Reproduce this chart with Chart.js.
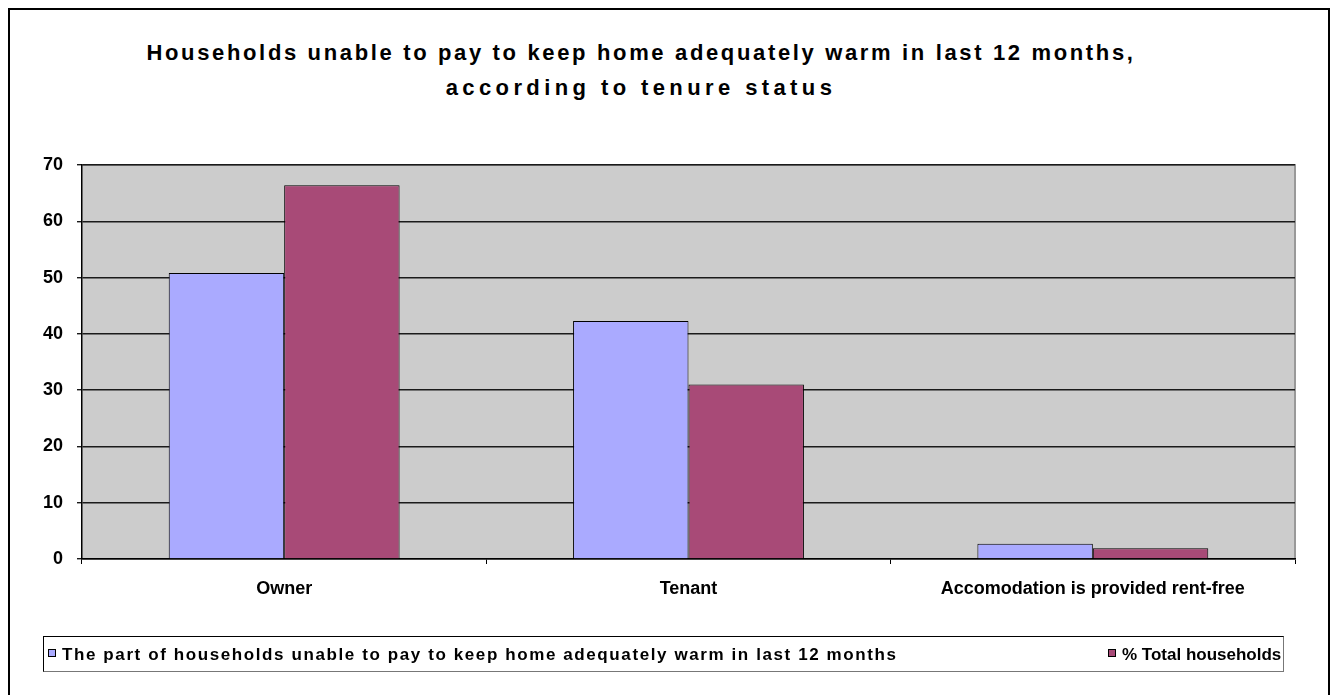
<!DOCTYPE html>
<html>
<head>
<meta charset="utf-8">
<script src="https://cdn.jsdelivr.net/npm/chart.js@4.4.0/dist/chart.umd.min.js"></script>
<style>
  body { margin: 0; background: #fff; font-family: "Liberation Sans", Arial, sans-serif; }
  #wrap { position: relative; width: 1338px; height: 695px; overflow: hidden; }
  #frame { position: absolute; left: 8px; top: 8px; width: 1318px; height: 700px; border: 2px solid #000; }
  #title { position: absolute; left: 0; top: 35px; width: 1282px; text-align: center;
           font-weight: bold; font-size: 22px; line-height: 35px; color: #000; }
  #title span { display: block; }
  #title .l1 { letter-spacing: 2.65px; }
  #title .l2 { letter-spacing: 4.4px; }
  #legend { position: absolute; left: 43px; top: 636px; width: 1239px; height: 34px;
            border: 1px solid #000; border-right-color: #777; border-bottom-color: #777; }
  .item { position: absolute; top: 8px; font-weight: bold; font-size: 17px; color: #000; white-space: nowrap; }
  .swatch { display: inline-block; width: 6px; height: 6px; border: 1px solid #000; margin-right: 6px; vertical-align: 3px; }
  canvas { position: absolute; left: 0; top: 0; }
</style>
</head>
<body>
<div id="wrap">
  <div id="frame"></div>
  <div id="title"><span class="l1">Households unable to pay to keep home adequately warm in last 12 months,</span><span class="l2">according to tenure status</span></div>
  <canvas id="barChart" width="1338" height="695"></canvas>
  <div id="legend"></div>
</div>
<script>
// chart data
var categories = ['Owner', 'Tenant', 'Accomodation is provided rent-free'];
var seriesNames = ['The part of households unable to pay to keep home adequately warm in last 12 months', '% Total households'];
var unablePart = [50.8, 42.3, 2.7];
var totalHouseholds = [66.4, 31.0, 1.9];
var yTicks = [0, 10, 20, 30, 40, 50, 60, 70];

var colors = ['#AAAAFF', '#A84A77'];

// html legend, laid out like the original excel one
var legendPos = [4, 1064];
var legendSpacing = ['1.6px', '0px'];
var legend = document.getElementById('legend');
seriesNames.forEach(function (name, i) {
  var item = document.createElement('div');
  item.className = 'item';
  item.style.left = legendPos[i] + 'px';
  item.style.letterSpacing = legendSpacing[i];
  var sw = document.createElement('span');
  sw.className = 'swatch';
  sw.style.background = colors[i];
  item.appendChild(sw);
  item.appendChild(document.createTextNode(name));
  legend.appendChild(item);
});

// grey plot area behind the bars
var plotBackground = {
  id: 'plotBackground',
  beforeDraw: function (chart) {
    var ctx = chart.ctx, a = chart.chartArea;
    ctx.save();
    ctx.fillStyle = '#CCCCCC';
    ctx.fillRect(a.left, a.top, a.right - a.left, a.bottom - a.top);
    ctx.strokeStyle = '#999999';
    ctx.lineWidth = 2;
    ctx.beginPath();
    ctx.moveTo(a.left, a.top);
    ctx.lineTo(a.right, a.top);
    ctx.lineTo(a.right, a.bottom);
    ctx.stroke();
    ctx.restore();
  }
};

var tickFont = { family: '"Liberation Sans", Arial, sans-serif', weight: 'bold', size: 18 };

var barChart = new Chart(document.getElementById('barChart'), {
  type: 'bar',
  data: {
    labels: categories,
    datasets: [
      { label: seriesNames[0], data: unablePart, backgroundColor: colors[0], borderColor: '#000', borderWidth: 1 },
      { label: seriesNames[1], data: totalHouseholds, backgroundColor: colors[1], borderColor: '#000', borderWidth: 1 }
    ]
  },
  options: {
    responsive: false,
    devicePixelRatio: 1,
    animation: false,
    layout: { padding: { top: 165, right: 43, bottom: 96, left: 0 } },
    datasets: { bar: { categoryPercentage: 0.571, barPercentage: 1.0 } },
    plugins: {
      legend: { display: false },
      title: { display: false },
      tooltip: { enabled: false }
    },
    scales: {
      x: {
        offset: true,
        grid: { offset: true, drawOnChartArea: false, drawTicks: true, tickLength: 5, color: '#000' },
        border: { display: true, color: '#000', width: 1.5 },
        ticks: { font: tickFont, color: '#000', padding: 14, maxRotation: 0 },
        afterFit: function (scale) { scale.height = 40; }
      },
      y: {
        min: 0,
        max: 70,
        afterBuildTicks: function (scale) {
          scale.ticks = yTicks.map(function (v) { return { value: v }; });
        },
        grid: { color: '#1a1a1a', lineWidth: 1.4, tickLength: 5 },
        border: { display: true, color: '#000', width: 1.5 },
        ticks: { font: tickFont, color: '#000', padding: 14 },
        afterFit: function (scale) { scale.width = 82; }
      }
    }
  },
  plugins: [plotBackground]
});
</script>
</body>
</html>
